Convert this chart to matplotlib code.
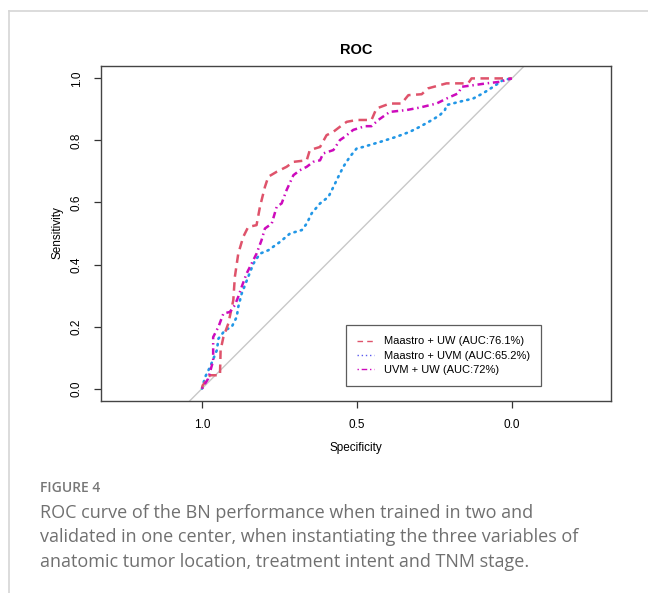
import matplotlib
matplotlib.use("Agg")
import matplotlib.pyplot as plt
from matplotlib.lines import Line2D

plt.rcParams["font.family"] = ["Liberation Sans", "DejaVu Sans"]

# ---- data (specificity, sensitivity) ----
labels = ["Maastro + UW (AUC:76.1%)", "Maastro + UVM (AUC:65.2%)", "UVM + UW (AUC:72%)"]

spec_mu = [1.0, 0.998, 0.974, 0.942, 0.94, 0.931, 0.915, 0.899, 0.894, 0.883, 0.867, 0.851,
           0.824, 0.813, 0.797, 0.786, 0.759, 0.727, 0.705, 0.662, 0.652, 0.619, 0.598, 0.576,
           0.555, 0.533, 0.501, 0.453, 0.437, 0.394, 0.356, 0.334, 0.291, 0.27, 0.211, 0.141,
           0.13, 0.049, 0.0]
sens_mu = [0.0, 0.01, 0.043, 0.043, 0.124, 0.166, 0.21, 0.285, 0.36, 0.435, 0.489, 0.521,
           0.527, 0.586, 0.65, 0.683, 0.699, 0.715, 0.731, 0.736, 0.769, 0.779, 0.817, 0.828,
           0.844, 0.86, 0.866, 0.866, 0.903, 0.919, 0.919, 0.946, 0.949, 0.968, 0.984, 0.984,
           1.0, 1.0, 1.0]

spec_mv = [1.0, 0.99, 0.974, 0.952, 0.947, 0.926, 0.904, 0.888, 0.883, 0.872, 0.851, 0.834,
           0.813, 0.786, 0.748, 0.716, 0.678, 0.662, 0.646, 0.619, 0.592, 0.576, 0.56, 0.544,
           0.523, 0.501, 0.48, 0.426, 0.372, 0.329, 0.297, 0.254, 0.232, 0.216, 0.211, 0.168,
           0.125, 0.093, 0.06, 0.028, 0.0]
sens_mv = [0.0, 0.037, 0.07, 0.124, 0.161, 0.188, 0.199, 0.231, 0.263, 0.306, 0.36, 0.403,
           0.435, 0.446, 0.473, 0.5, 0.511, 0.532, 0.565, 0.597, 0.618, 0.65, 0.683, 0.715,
           0.747, 0.774, 0.779, 0.795, 0.812, 0.828, 0.844, 0.868, 0.882, 0.898, 0.914, 0.925,
           0.935, 0.952, 0.973, 0.995, 1.0]

spec_vu = [1.0, 0.98, 0.964, 0.964, 0.947, 0.931, 0.91, 0.894, 0.883, 0.872, 0.856, 0.84,
           0.824, 0.808, 0.797, 0.775, 0.759, 0.743, 0.727, 0.705, 0.684, 0.662, 0.641, 0.619,
           0.609, 0.576, 0.555, 0.539, 0.512, 0.474, 0.453, 0.431, 0.394, 0.34, 0.297, 0.243,
           0.211, 0.173, 0.162, 0.125, 0.082, 0.039, 0.0]
sens_vu = [0.0, 0.032, 0.09, 0.166, 0.199, 0.242, 0.247, 0.269, 0.296, 0.328, 0.371, 0.403,
           0.435, 0.478, 0.516, 0.532, 0.586, 0.597, 0.64, 0.688, 0.704, 0.715, 0.731, 0.736,
           0.758, 0.769, 0.801, 0.812, 0.834, 0.846, 0.846, 0.866, 0.892, 0.898, 0.906, 0.919,
           0.935, 0.952, 0.973, 0.978, 0.984, 0.989, 1.0]

x_ticks = [1.0, 0.5, 0.0]
y_ticks = [0.0, 0.2, 0.4, 0.6, 0.8, 1.0]

caption = ("ROC curve of the BN performance when trained in two and\n"
           "validated in one center, when instantiating the three variables of\n"
           "anatomic tumor location, treatment intent and TNM stage.")

RED, BLUE, MAG = "#DF536B", "#2297E6", "#CD0BBC"

fig = plt.figure(figsize=(6.48, 5.93), dpi=100)
ax = fig.add_axes([101 / 648, 1 - 401 / 593, 510 / 648, 335 / 593])

# chance diagonal, spanning the whole box like abline()
ax.plot([1.1, -0.1], [-0.1, 1.1], color="#c8c8c8", lw=1.0, zorder=1)

ax.plot(spec_mu, sens_mu, color=RED, lw=1.8, dashes=(3.4, 2.2), zorder=3)
ax.plot(spec_mv, sens_mv, color=BLUE, lw=1.9, dashes=(0.5, 2.0), dash_capstyle="round", zorder=2)
ax.plot(spec_vu, sens_vu, color=MAG, lw=1.8, dashes=(0.6, 1.5, 2.6, 1.5), zorder=4)

ax.set_xlim(1.326, -0.32)
ax.set_ylim(-0.04, 1.04)
ax.set_xticks(x_ticks)
ax.set_xticklabels([f"{t:.1f}" for t in x_ticks])
ax.set_yticks(y_ticks)
ax.set_yticklabels([f"{t:.1f}" for t in y_ticks], rotation=90, va="center")
ax.tick_params(length=5, width=0.9, color="#333333", labelsize=8.5, pad=8)
for sp in ax.spines.values():
    sp.set_color("#444444")
    sp.set_linewidth(1.0)

handles = [
    Line2D([], [], color=RED, lw=1.0, dashes=(4, 3)),
    Line2D([], [], color="#5a5aee", lw=1.0, dashes=(1, 2)),
    Line2D([], [], color=MAG, lw=1.0, dashes=(1, 2, 4, 2)),
]
leg = ax.legend(handles, labels, loc="lower right", bbox_to_anchor=(541 / 648, 1 - 386 / 593),
                bbox_transform=fig.transFigure, fontsize=8, frameon=True, fancybox=False,
                handlelength=1.55, handletextpad=0.85, borderpad=1.0, labelspacing=0.38,
                borderaxespad=0)
leg.get_frame().set_edgecolor("#333333")
leg.get_frame().set_linewidth(0.9)

fig.text(356 / 648, 1 - 50 / 593, "ROC", ha="center", va="center",
         fontsize=10.5, fontweight="bold")
fig.text(356 / 648, 1 - 448 / 593, "Specificity", ha="center", va="center", fontsize=8.5)
fig.text(57 / 648, 1 - 233 / 593, "Sensitivity", ha="center", va="center",
         rotation=90, fontsize=8.5)

# page frame lines (top and left)
fig.add_artist(Line2D([9 / 648, 1], [1 - 11 / 593, 1 - 11 / 593], color="#d6d6d6",
                      lw=1.2, transform=fig.transFigure))
fig.add_artist(Line2D([9 / 648, 9 / 648], [0, 1 - 11 / 593], color="#d6d6d6",
                      lw=1.2, transform=fig.transFigure))

fig.text(40 / 648, 1 - 488 / 593, "FIGURE 4", ha="left", va="center", fontsize=10,
         color="#777777", family=["Open Sans", "DejaVu Sans"], fontweight="semibold")
fig.text(40 / 648, 1 - 504 / 593, caption, ha="left", va="top", fontsize=13,
         color="#707070", family=["Open Sans", "DejaVu Sans"], linespacing=1.46)

fig.savefig("out.png", dpi=100)
